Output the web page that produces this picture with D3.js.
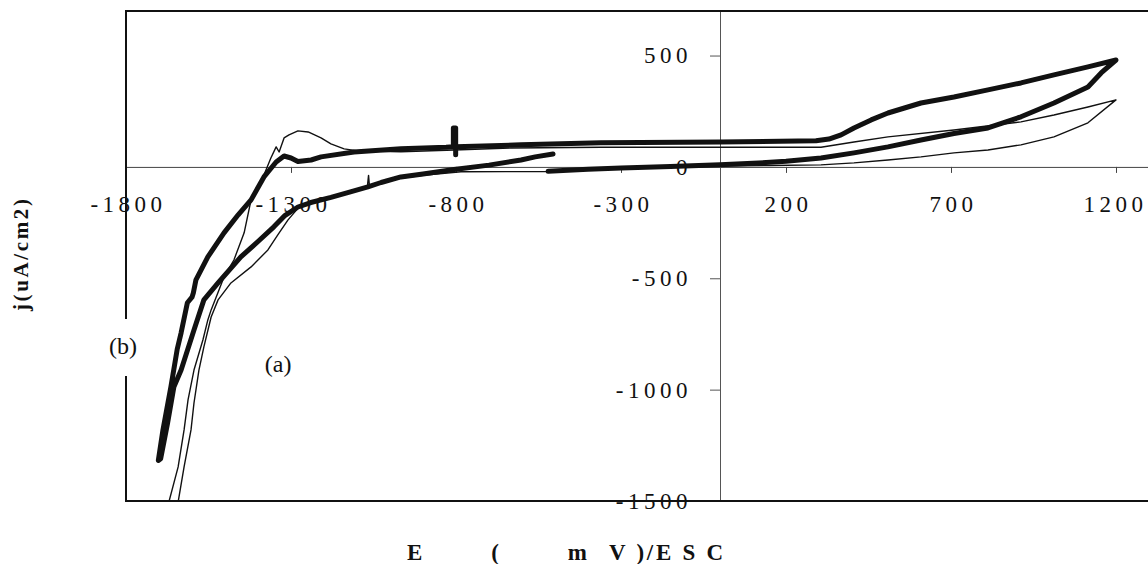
<!DOCTYPE html>
<html>
<head>
<meta charset="utf-8">
<script src="https://cdn.jsdelivr.net/npm/d3@7"></script>
<style>
  html, body { margin: 0; padding: 0; background: #fff; }
  svg { display: block; }
  .tick text { font-family: "Liberation Serif", "Times New Roman", serif; font-size: 23px; letter-spacing: 4.5px; fill: #111; }
  .lbl { font-family: "Liberation Serif", "Times New Roman", serif; fill: #111; }
</style>
</head>
<body>
<svg id="chart" width="1148" height="564"></svg>
<script>
// Potential axis (mV vs SCE) and current density axis (uA/cm2)
const potentialTicks = [-1800, -1300, -800, -300, 200, 700, 1200];
const currentTicks = [-1500, -1000, -500, 0, 500];
const potentialDomain = [-1800, 1300];
const currentDomain = [-1500, 700];

// Voltammogram (a): thin trace, [E (mV), j (uA/cm2)] in sweep order
const sweepA = [
  [-521, -21], [-650, -21], [-785, -22], [-900, -38], [-967, -50], [-1027, -74],
  [-1062, -92], [-1065, -38], [-1069, -94], [-1120, -114], [-1179, -139], [-1240, -166],
  [-1279, -186], [-1309, -238], [-1340, -305], [-1370, -373], [-1421, -449], [-1482, -521],
  [-1521, -597], [-1542, -674], [-1564, -808], [-1579, -912], [-1594, -1060], [-1603, -1181],
  [-1624, -1347], [-1642, -1504], [-1655, -1620],
  [-1672, -1620], [-1670, -1504], [-1642, -1347], [-1624, -1181], [-1612, -1046], [-1594, -912],
  [-1567, -777], [-1552, -687], [-1542, -642], [-1518, -552], [-1503, -494], [-1473, -418],
  [-1442, -296], [-1421, -148], [-1391, -67], [-1382, -36], [-1361, 40], [-1345, 90],
  [-1336, 67], [-1321, 130], [-1306, 144], [-1279, 162], [-1248, 157], [-1209, 130],
  [-1179, 103], [-1139, 81], [-1097, 72], [-967, 68], [-806, 76], [-633, 85], [-361, 88],
  [0, 88], [306, 88], [406, 112], [509, 135], [709, 166], [912, 202], [1012, 233],
  [1115, 269], [1200, 301],
  [1115, 198], [1012, 135], [912, 99], [812, 76], [709, 63], [609, 45], [509, 31],
  [406, 18], [306, 9], [150, 6], [0, 4], [-200, -4], [-361, -10], [-521, -21]
];

// Voltammogram (b): thick trace, [E (mV), j (uA/cm2)] in sweep order
const sweepB = [
  [-506, 58], [-560, 45], [-603, 31], [-700, 8], [-806, -12], [-900, -32], [-967, -45],
  [-1027, -70], [-1067, -90], [-1120, -112], [-1179, -137], [-1240, -160], [-1279, -180],
  [-1320, -220], [-1352, -269], [-1400, -335], [-1452, -404], [-1521, -521], [-1564, -597],
  [-1594, -732], [-1633, -912], [-1655, -988], [-1674, -1150], [-1695, -1310],
  [-1702, -1318], [-1688, -1181], [-1664, -988], [-1645, -820], [-1633, -745], [-1614, -610],
  [-1600, -585], [-1596, -566], [-1588, -507], [-1552, -404], [-1503, -296], [-1460, -215],
  [-1421, -148], [-1382, -45], [-1345, 22], [-1321, 49], [-1300, 40], [-1279, 24],
  [-1239, 31], [-1209, 45], [-1109, 67], [-967, 81], [-830, 88],
  [-808, 90], [-808, 175], [-801, 175], [-801, 55], [-801, 90],
  [-603, 99], [-361, 108], [0, 112], [291, 117], [330, 125], [367, 144], [406, 175],
  [458, 211], [509, 242], [609, 287], [709, 314], [812, 346], [912, 377], [1012, 413],
  [1115, 449], [1200, 480],
  [1155, 422], [1115, 359], [1012, 287], [912, 225], [812, 175], [709, 150], [609, 121],
  [509, 90], [406, 63], [306, 40], [200, 25], [100, 16], [0, 10], [-150, 2], [-300, -5],
  [-400, -10], [-521, -20]
];

const curveLabels = [
  { text: "(a)", E: -1339, j: -922, mask: false },
  { text: "(b)", E: -1809, j: -840, mask: true }
];

const svg = d3.select("#chart");
const plot = { left: 126, right: 1149, top: 11, bottom: 501 };

const x = d3.scaleLinear().domain(potentialDomain).range([plot.left, plot.right]);
const y = d3.scaleLinear().domain(currentDomain).range([plot.bottom, plot.top]);

svg.append("defs").append("clipPath").attr("id", "plotClip")
  .append("rect")
  .attr("x", plot.left).attr("y", plot.top)
  .attr("width", plot.right - plot.left).attr("height", plot.bottom - plot.top);

// Tick labels use a plain hyphen for negatives
const plainNumber = d => String(d);

// Axes crossing at the origin
const xAxis = svg.append("g")
  .attr("transform", `translate(0,${y(0)})`)
  .call(d3.axisBottom(x).tickValues(potentialTicks).tickSize(6).tickSizeOuter(0).tickPadding(23)
    .tickFormat(plainNumber));
xAxis.select(".domain").attr("stroke", "#444").attr("stroke-width", 1);
xAxis.selectAll(".tick line").attr("stroke", "#444");
xAxis.selectAll(".tick text").attr("dx", d => d === 1200 ? "-1" : "2");

const yAxis = svg.append("g")
  .attr("transform", `translate(${x(0)},0)`)
  .call(d3.axisLeft(y).tickValues(currentTicks).tickSize(10).tickSizeOuter(0).tickPadding(18)
    .tickFormat(plainNumber));
yAxis.select(".domain").attr("stroke", "#555").attr("stroke-width", 1);
yAxis.selectAll(".tick line").attr("stroke", "#555");

// Traces
const line = d3.line().x(d => x(d[0])).y(d => y(d[1])).curve(d3.curveLinear);
const traces = svg.append("g").attr("clip-path", "url(#plotClip)");
traces.append("path").datum(sweepA)
  .attr("d", line).attr("fill", "none").attr("stroke", "#111")
  .attr("stroke-width", 1.4).attr("stroke-linejoin", "round");
traces.append("path").datum(sweepB)
  .attr("d", line).attr("fill", "none").attr("stroke", "#111")
  .attr("stroke-width", 5).attr("stroke-linejoin", "round").attr("stroke-linecap", "round");

// Frame (open on the right)
svg.append("rect")
  .attr("x", plot.left).attr("y", plot.top)
  .attr("width", plot.right - plot.left + 40).attr("height", plot.bottom - plot.top)
  .attr("fill", "none").attr("stroke", "#111").attr("stroke-width", 2);

// Curve labels; label (b) sits in a white box that breaks the frame
curveLabels.forEach(l => {
  const t = svg.append("text").attr("class", "lbl")
    .attr("x", x(l.E)).attr("y", y(l.j))
    .attr("text-anchor", "middle").attr("font-size", 24).text(l.text);
  if (l.mask) {
    const bb = t.node().getBBox();
    svg.insert("rect", "text.lbl")
      .attr("x", bb.x - 4).attr("y", bb.y - 14)
      .attr("width", bb.width + 8).attr("height", bb.height + 31)
      .attr("fill", "#fff");
  }
});

// Axis titles: the potential title is set in two spaced runs
svg.append("text").attr("class", "lbl")
  .attr("x", 407).attr("y", 560)
  .attr("font-size", 23).attr("font-weight", "bold")
  .attr("textLength", 180).attr("lengthAdjust", "spacing")
  .text("E ( m");
svg.append("text").attr("class", "lbl")
  .attr("x", 609).attr("y", 560)
  .attr("font-size", 23).attr("font-weight", "bold")
  .attr("textLength", 114).attr("lengthAdjust", "spacing")
  .text("V )/E S C");

svg.append("text").attr("class", "lbl")
  .attr("transform", "translate(28,255) rotate(-90)")
  .attr("text-anchor", "middle").attr("font-size", 21).attr("font-weight", "bold")
  .attr("textLength", 112).attr("lengthAdjust", "spacing")
  .text("j(uA/cm2)");
</script>
</body>
</html>
